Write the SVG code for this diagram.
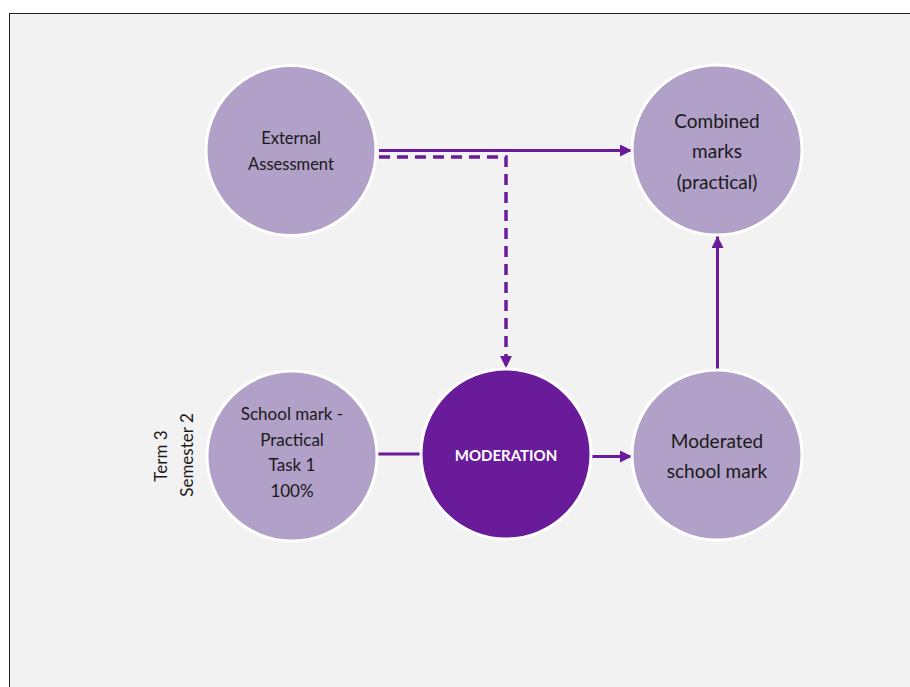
<svg xmlns="http://www.w3.org/2000/svg" width="910" height="687" viewBox="0 0 910 687">
<style>
.light{fill:#b1a0c7;stroke:#ffffff;stroke-width:3}
.dark{fill:#6a1b9a;stroke:#ffffff;stroke-width:3}
.t{font-family:Lato,"Open Sans","Liberation Sans",sans-serif;fill:#1a1a1a;text-anchor:middle}
.s15{font-size:16.5px}
.s17{font-size:17px}
.s18{font-size:19px}
.con{stroke:#6a1b9a;stroke-width:3;fill:none}
.dash{stroke-dasharray:11 7;stroke-width:3.5}
</style>
<defs>
<marker id="ah" viewBox="0 0 10 10" refX="10" refY="5" markerWidth="4" markerHeight="4" orient="auto" markerUnits="strokeWidth">
<path d="M0,0 L10,5 L0,10 z" fill="#6a1b9a"/>
</marker>
<marker id="ahd" viewBox="0 0 10 10" refX="10" refY="5" markerWidth="3.4" markerHeight="3.4" orient="auto" markerUnits="strokeWidth">
<path d="M0,0 L10,5 L0,10 z" fill="#6a1b9a"/>
</marker>
</defs>
<rect x="0" y="0" width="910" height="687" fill="#ffffff"/>
<rect x="9.5" y="13.5" width="910" height="690" fill="#f2f2f2" stroke="#222" stroke-width="1"/>
<g id="connectors">
<line class="con" x1="379" y1="150.5" x2="632" y2="150.5" marker-end="url(#ah)"/>
<polyline class="con dash" points="379,157 506,157 506,368" marker-end="url(#ahd)"/>
<line class="con" x1="377" y1="454" x2="421" y2="454"/>
<line class="con" x1="591" y1="456.5" x2="632" y2="456.5" marker-end="url(#ah)"/>
<line class="con" x1="717.5" y1="369" x2="717.5" y2="236" marker-end="url(#ah)"/>
</g>
<g id="external">
<circle class="light" cx="291" cy="150.5" r="85"/>
<text class="t s15" x="291" y="144">External</text>
<text class="t s15" x="291" y="170">Assessment</text>
</g>
<g id="combined">
<circle class="light" cx="717" cy="150" r="85"/>
<text class="t s18" x="717" y="128">Combined</text>
<text class="t s18" x="717" y="158">marks</text>
<text class="t s18" x="717" y="189">(practical)</text>
</g>
<g id="school">
<circle class="light" cx="292" cy="456" r="85"/>
<text class="t s17" x="292" y="420">School mark -</text>
<text class="t s17" x="292" y="446">Practical</text>
<text class="t s17" x="292" y="471">Task 1</text>
<text class="t s17" x="292" y="497">100%</text>
</g>
<g id="moderation">
<circle class="dark" cx="506" cy="454" r="85"/>
<text class="t" x="506" y="460.5" style="font-size:15px;font-weight:bold;fill:#ffffff">MODERATION</text>
</g>
<g id="moderated">
<circle class="light" cx="717" cy="455" r="85"/>
<text class="t s18" x="717" y="448">Moderated</text>
<text class="t s18" x="717" y="478">school mark</text>
</g>
<g id="side-labels">
<text class="t s17" transform="translate(167,456) rotate(-90)">Term 3</text>
<text class="t s17" transform="translate(193,455) rotate(-90)">Semester 2</text>
</g>
</svg>
